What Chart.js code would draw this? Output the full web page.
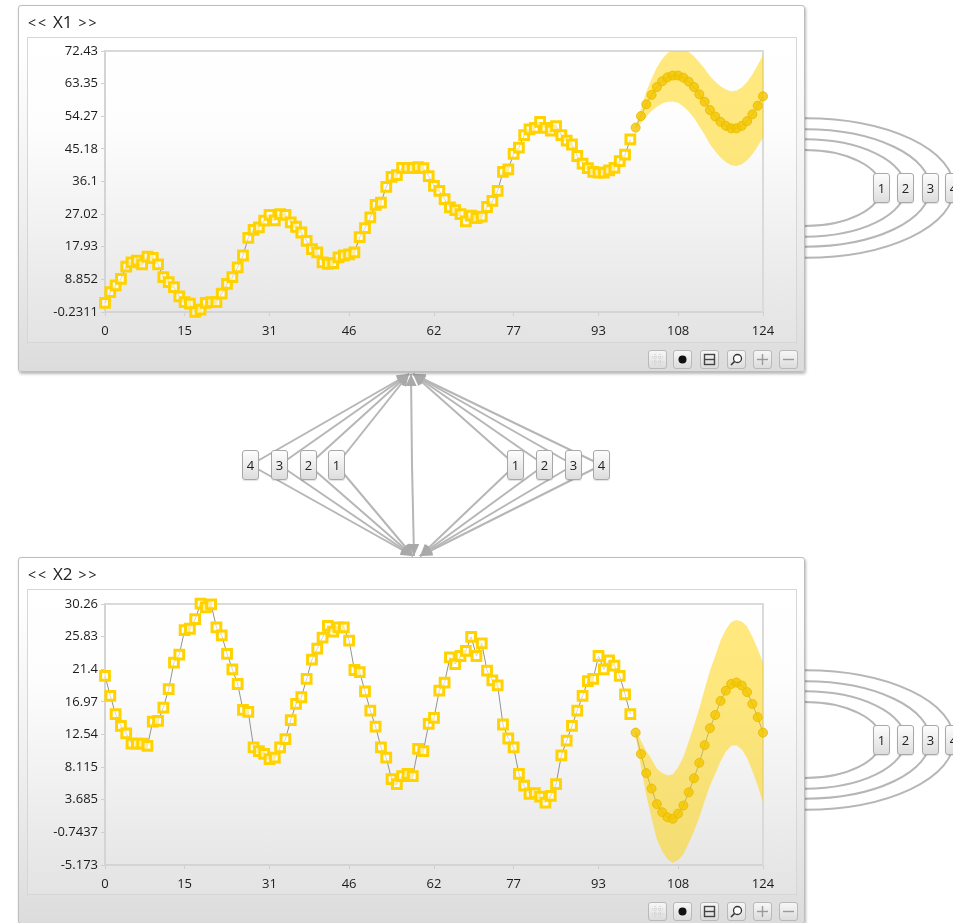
<!DOCTYPE html>
<html>
<head>
<meta charset="utf-8">
<script src="https://cdn.jsdelivr.net/npm/chart.js@4.4.1/dist/chart.umd.min.js"></script>
<style>
  html, body { margin:0; padding:0; background:#fff; width:953px; height:923px; overflow:hidden;
    font-family:"Open Sans","DejaVu Sans",sans-serif; }
  #links { position:absolute; left:0; top:0; }
  .panel { position:absolute; left:18px; width:785px; height:365px; border:1px solid #bdbdbd; border-radius:3px;
    background:linear-gradient(to bottom,#ffffff 0%,#ffffff 12%,#eeeeee 60%,#dcdcdc 100%);
    box-shadow:1px 2px 3px rgba(0,0,0,0.28); }
  .title { position:absolute; left:9px; top:4px; line-height:24px; color:#222; white-space:nowrap; }
  .title .chev { font-size:14px; letter-spacing:2px; display:inline-block; }
  .title .name { font-size:17px; display:inline-block; margin:0 6px 0 5px; }
  .frame { position:absolute; left:8px; top:31px; width:770px; height:306px;
    background:linear-gradient(to bottom,#ffffff 0%,#fdfdfd 30%,#f1f1f1 62%,#e3e3e3 100%);
    box-shadow:inset 0 0 0 1px #d6d6d6; }
  .frame canvas { position:absolute; left:0; top:0; }
  .btn { position:absolute; top:344px; width:17px; height:17px; border:1px solid #b9b9b9; border-radius:3px;
    background:linear-gradient(to bottom,#f7f7f7,#dcdcdc); }
  .btn svg { position:absolute; left:0; top:0; }
  .tag { position:absolute; width:15px; height:28px; border:1px solid #a8a8a8; border-radius:3px;
    background:linear-gradient(to bottom,#fdfdfd,#dddddd); font-size:13px; line-height:28px;
    text-align:center; color:#222; box-shadow:0 1px 1px rgba(0,0,0,0.12); }
</style>
</head>
<body>
<canvas id="links" width="953" height="923"></canvas>

<div class="panel" style="top:5px;">
  <div class="title"><span class="chev">&lt;&lt;</span><span class="name">X1</span><span class="chev">&gt;&gt;</span></div>
  <div class="frame"><canvas id="chartX1" width="770" height="306"></canvas></div>
  <div class="tools"></div>
</div>

<div class="panel" style="top:557px;">
  <div class="title"><span class="chev">&lt;&lt;</span><span class="name">X2</span><span class="chev">&gt;&gt;</span></div>
  <div class="frame"><canvas id="chartX2" width="770" height="306"></canvas></div>
  <div class="tools"></div>
</div>

<!-- lag selectors between the two panels -->
<div class="tag" style="left:242px;top:450px;">4</div>
<div class="tag" style="left:271px;top:450px;">3</div>
<div class="tag" style="left:300px;top:450px;">2</div>
<div class="tag" style="left:328px;top:450px;">1</div>
<div class="tag" style="left:507px;top:450px;">1</div>
<div class="tag" style="left:536px;top:450px;">2</div>
<div class="tag" style="left:565px;top:450px;">3</div>
<div class="tag" style="left:593px;top:450px;">4</div>

<!-- self-lag selectors on the right of each panel -->
<div class="tag" style="left:873px;top:173px;">1</div>
<div class="tag" style="left:897px;top:173px;">2</div>
<div class="tag" style="left:922px;top:173px;">3</div>
<div class="tag" style="left:945px;top:173px;">4</div>
<div class="tag" style="left:873px;top:725px;">1</div>
<div class="tag" style="left:897px;top:725px;">2</div>
<div class="tag" style="left:922px;top:725px;">3</div>
<div class="tag" style="left:945px;top:725px;">4</div>

<script>
// ---- data ----
const xTicks = [0, 15, 31, 46, 62, 77, 93, 108, 124];
const x1TickLabels = ['-0.2311', '8.852', '17.93', '27.02', '36.1', '45.18', '54.27', '63.35', '72.43'];
const x2TickLabels = ['-5.173', '-0.7437', '3.685', '8.115', '12.54', '16.97', '21.4', '25.83', '30.26'];
const forecastStart = 100;

const x1Observed = [
  2.3, 5.3, 7.2, 9.0, 12.4, 13.6, 14.1, 13.0, 15.2, 14.8,
  13.0, 9.5, 8.1, 6.7, 4.1, 2.5, 2.1, -0.2, 0.4, 2.3,
  2.5, 2.5, 4.9, 7.6, 9.5, 12.2, 15.5, 20.4, 22.6, 23.3,
  25.2, 26.8, 25.3, 27.0, 26.8, 24.7, 23.5, 21.9, 19.6, 17.3,
  16.4, 13.6, 13.2, 13.4, 15.0, 15.5, 15.8, 16.4, 20.6, 23.1,
  26.1, 29.6, 30.2, 34.6, 37.4, 37.9, 39.9, 39.9, 39.8, 40.1,
  39.8, 37.6, 34.9, 33.5, 31.2, 28.9, 28.1, 27.0, 25.0, 26.6,
  25.9, 26.3, 29.0, 30.7, 33.5, 38.8, 39.5, 43.8, 45.5, 49.0,
  50.6, 51.0, 52.7, 51.0, 50.3, 51.5, 49.0, 47.5, 46.4, 43.2,
  41.1, 39.8, 38.8, 38.6, 38.6, 39.2, 39.9, 41.8, 43.6, 47.8
];
const x1Forecast = [
  51.1, 54.3, 57.6, 60.2, 62.4, 64.0, 65.1, 65.6, 65.6, 65.0,
  63.9, 62.4, 60.4, 58.3, 56.0, 54.2, 52.7, 51.6, 50.9, 50.9,
  51.6, 52.9, 54.8, 57.2, 59.8
];
const x1Upper = [
  51.6, 56.3, 61.1, 64.7, 67.9, 70.2, 71.9, 72.8, 73.2, 73.0,
  72.2, 71.0, 69.3, 67.5, 65.5, 63.9, 62.6, 61.7, 61.2, 61.4,
  62.3, 63.8, 65.9, 68.5, 71.3
];
const x1Lower = [
  50.6, 52.3, 54.1, 55.7, 56.9, 57.8, 58.3, 58.4, 58.0, 57.0,
  55.6, 53.8, 51.5, 49.1, 46.5, 44.5, 42.8, 41.5, 40.6, 40.4,
  40.9, 42.0, 43.7, 45.9, 48.3
];

const x2Observed = [
  20.5, 17.8, 15.3, 13.7, 12.7, 11.3, 11.3, 11.3, 11.0, 14.3,
  14.4, 16.2, 18.7, 22.3, 23.4, 26.7, 26.9, 28.2, 30.3, 29.8,
  30.2, 27.1, 26.0, 23.5, 21.4, 19.4, 15.9, 15.6, 10.8, 10.3,
  9.9, 9.2, 9.4, 10.8, 11.9, 14.5, 16.7, 17.6, 20.1, 22.7,
  24.2, 25.7, 27.3, 26.5, 27.1, 27.1, 25.3, 21.3, 21.0, 18.4,
  15.8, 13.6, 10.8, 9.4, 6.5, 5.8, 6.9, 7.2, 6.9, 10.6,
  10.3, 14.0, 14.8, 18.5, 19.6, 23.0, 22.1, 23.2, 23.9, 25.8,
  23.2, 24.9, 21.2, 19.9, 19.2, 13.9, 12.0, 10.8, 7.2, 5.6,
  4.5, 4.6, 4.1, 3.3, 4.2, 5.8, 9.7, 11.7, 13.7, 15.8,
  17.8, 19.8, 20.1, 23.2, 21.4, 22.6, 21.9, 20.5, 18.0, 15.3
];
const x2Forecast = [
  12.8, 9.9, 7.3, 5.2, 3.1, 2.0, 1.3, 1.1, 1.8, 2.9,
  4.7, 6.6, 8.7, 11.1, 13.4, 15.2, 17.1, 18.5, 19.4, 19.6,
  19.2, 18.3, 16.7, 14.9, 12.8
];
const x2Upper = [
  13.3, 11.7, 10.3, 9.2, 7.9, 7.3, 7.0, 7.1, 8.1, 9.5,
  11.6, 13.8, 16.1, 18.7, 21.2, 23.2, 25.3, 26.8, 27.8, 28.1,
  27.9, 27.2, 25.8, 24.2, 22.3
];
const x2Lower = [
  12.3, 8.1, 4.3, 1.2, -1.7, -3.3, -4.4, -4.9, -4.5, -3.7,
  -2.2, -0.6, 1.3, 3.5, 5.6, 7.2, 8.9, 10.2, 11.0, 11.1,
  10.5, 9.4, 7.6, 5.6, 3.3
];

// ---- charts ----
const tickFont = { family: '"Open Sans", "DejaVu Sans", sans-serif', size: 13 };

const plotFrame = {
  id: 'plotFrame',
  beforeDatasetsDraw(chart) {
    const a = chart.chartArea, g = chart.ctx;
    g.save();
    g.strokeStyle = '#dadada';
    g.lineWidth = 2;
    g.beginPath();
    g.moveTo(a.left, a.top); g.lineTo(a.right, a.top); g.lineTo(a.right, a.bottom);
    g.stroke();
    g.restore();
  }
};

function seriesPoints(values, start) {
  return values.map((v, i) => ({ x: start + i, y: v }));
}

function buildChart(id, observed, forecast, upper, lower, yLabels, topPad, xAxisHeight) {
  const yValues = yLabels.map(Number);
  return new Chart(document.getElementById(id), {
    type: 'line',
    data: {
      datasets: [
        { data: seriesPoints(upper, forecastStart), fill: '+1', order: 5,
          backgroundColor: 'rgba(255,212,0,0.5)', borderColor: 'transparent', borderWidth: 0, pointRadius: 0 },
        { data: seriesPoints(lower, forecastStart), fill: false, order: 5,
          borderColor: 'transparent', borderWidth: 0, pointRadius: 0 },
        { data: seriesPoints(observed, 0), order: 1, clip: false,
          borderColor: '#939393', borderWidth: 1, tension: 0,
          pointStyle: 'rect', pointRadius: 6.2, pointBorderWidth: 3,
          pointBorderColor: '#ffd200', pointBackgroundColor: 'rgba(255,255,255,0.6)' },
        { data: seriesPoints(forecast, forecastStart), order: 0, clip: false,
          borderColor: 'rgba(150,140,90,0.55)', borderWidth: 1, tension: 0,
          pointStyle: 'circle', pointRadius: 4.5, pointBorderWidth: 1,
          pointBorderColor: 'rgba(232,188,0,0.9)', pointBackgroundColor: 'rgba(244,198,0,0.82)' }
      ]
    },
    options: {
      responsive: false,
      animation: false,
      events: [],
      layout: { padding: { left: 0, right: 34, top: topPad, bottom: 0 } },
      plugins: { legend: { display: false }, tooltip: { enabled: false } },
      scales: {
        x: {
          type: 'linear', min: xTicks[0], max: xTicks[xTicks.length - 1],
          afterBuildTicks: s => { s.ticks = xTicks.map(v => ({ value: v })); },
          afterFit: s => { s.height = xAxisHeight; },
          grid: { drawOnChartArea: false, drawTicks: true, tickLength: 4, color: '#cfcfcf' },
          border: { color: '#d4d4d4', width: 2 },
          ticks: { font: tickFont, color: '#1c1c1c', padding: 7, maxRotation: 0, autoSkip: false,
                   callback: (v, i) => String(xTicks[i]) }
        },
        y: {
          type: 'linear', min: yValues[0], max: yValues[yValues.length - 1],
          afterBuildTicks: s => { s.ticks = yValues.map(v => ({ value: v })); },
          afterFit: s => { s.width = 78; },
          grid: { drawOnChartArea: false, drawTicks: true, tickLength: 4, color: '#cfcfcf' },
          border: { color: '#d4d4d4', width: 2 },
          ticks: { font: tickFont, color: '#1c1c1c', padding: 3, autoSkip: false,
                   callback: (v, i) => yLabels[i] }
        }
      }
    },
    plugins: [plotFrame]
  });
}

buildChart('chartX1', x1Observed, x1Forecast, x1Upper, x1Lower, x1TickLabels, 14, 31);
buildChart('chartX2', x2Observed, x2Forecast, x2Upper, x2Lower, x2TickLabels, 15, 30);

// ---- toolbar buttons under each plot ----
const icons = [
  '<g stroke="#c8c8c8" stroke-width="1" stroke-dasharray="1,1"><line x1="6" y1="3" x2="6" y2="14"/><line x1="11" y1="3" x2="11" y2="14"/><line x1="3" y1="6" x2="14" y2="6"/><line x1="3" y1="11" x2="14" y2="11"/></g>',
  '<circle cx="8.5" cy="8.5" r="4" fill="#111"/>',
  '<rect x="3.5" y="3.5" width="10" height="10" fill="none" stroke="#444" stroke-width="1.4"/><line x1="3.5" y1="8.5" x2="13.5" y2="8.5" stroke="#444" stroke-width="1.4"/>',
  '<circle cx="9.5" cy="7.5" r="4" fill="#fff" stroke="#333" stroke-width="1.3"/><line x1="6.5" y1="10.5" x2="3" y2="14" stroke="#333" stroke-width="1.6"/>',
  '<g stroke="#9a9a9a" stroke-width="1.4"><line x1="8.5" y1="3" x2="8.5" y2="14"/><line x1="3" y1="8.5" x2="14" y2="8.5"/></g>',
  '<line x1="3" y1="8.5" x2="14" y2="8.5" stroke="#9a9a9a" stroke-width="1.4"/>'
];
const btnLeft = [629, 654, 681, 708, 734, 760];
document.querySelectorAll('.tools').forEach(t => {
  icons.forEach((svg, i) => {
    const b = document.createElement('div');
    b.className = 'btn';
    b.style.left = btnLeft[i] + 'px';
    b.innerHTML = '<svg width="17" height="17" viewBox="0 0 17 17">' + svg + '</svg>';
    t.parentNode.appendChild(b);
  });
});

// ---- connectors between and beside the panels ----
(function drawLinks() {
  const g = document.getElementById('links').getContext('2d');
  g.strokeStyle = '#b6b6b6';
  g.fillStyle = '#a9a9a9';
  g.lineWidth = 2;

  function arrow(x0, y0, x1, y1) {
    g.beginPath(); g.moveTo(x0, y0); g.lineTo(x1, y1); g.stroke();
    const a = Math.atan2(y1 - y0, x1 - x0), len = 12, hw = 5.5;
    g.beginPath();
    g.moveTo(x1, y1);
    g.lineTo(x1 - len * Math.cos(a) + hw * Math.sin(a), y1 - len * Math.sin(a) - hw * Math.cos(a));
    g.lineTo(x1 - len * Math.cos(a) - hw * Math.sin(a), y1 - len * Math.sin(a) + hw * Math.cos(a));
    g.closePath(); g.fill();
  }

  const tagY = 465;
  const leftTags = [250.5, 279.5, 308.5, 336.5];
  const rightTags = [515.5, 544.5, 573.5, 601.5];
  leftTags.forEach(cx => {
    arrow(cx, tagY, 409, 374);
    arrow(cx, tagY, 413, 556);
  });
  rightTags.forEach(cx => {
    arrow(cx, tagY, 413, 374);
    arrow(cx, tagY, 420, 556);
  });
  arrow(412, 465, 411, 374);
  arrow(412, 465, 414, 556);

  // self-lag loops on the right edge of each panel
  const loopRx = [76, 100.5, 125, 149];
  const loopRy = [38, 48.7, 58.7, 69.7];
  [188, 740].forEach(cy => {
    loopRx.forEach((rx, k) => {
      g.beginPath();
      g.ellipse(805, cy, rx, loopRy[k], 0, -Math.PI / 2, Math.PI / 2);
      g.stroke();
    });
  });
})();
</script>
</body>
</html>
